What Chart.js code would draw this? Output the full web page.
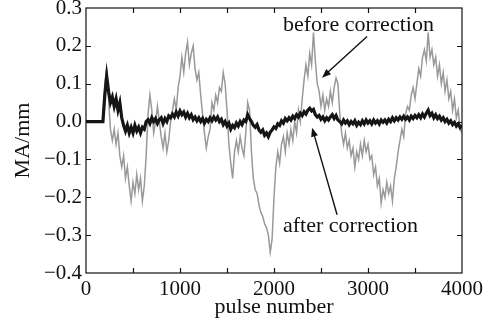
<!DOCTYPE html>
<html>
<head>
<meta charset="utf-8">
<script src="https://cdn.jsdelivr.net/npm/chart.js@4.4.1/dist/chart.umd.min.js"></script>
<style>
  html, body { margin: 0; padding: 0; background: #fff; }
  #wrap { width: 491px; height: 322px; }
</style>
</head>
<body>
<div id="wrap"><canvas id="chart" width="491" height="322"></canvas></div>
<script>
// sampled every 20 pulses, 0 .. 4000 (one row = 200 pulses)
const step = 20;

const beforeCorrection = [
    0, 0, 0, 0, 0, 0, 0, 0, 0, 0,
    0.10, 0.14, 0.06, -0.02, -0.05, -0.02, -0.06, -0.03, -0.09, -0.12,
    -0.09, -0.15, -0.12, -0.17, -0.21, -0.16, -0.19, -0.14, -0.18, -0.15,
    -0.21, -0.17, -0.09, 0.02, 0.07, 0.03, -0.03, 0.00, 0.04, 0.00,
    -0.04, -0.07, -0.03, -0.08, -0.05, 0.00, 0.03, 0.06, 0.03, 0.09,
    0.12, 0.17, 0.13, 0.18, 0.21, 0.15, 0.18, 0.20, 0.14, 0.11,
    0.13, 0.07, 0.02, -0.03, -0.07, -0.04, -0.02, 0.05, 0.03, 0.07,
    0.05, 0.09, 0.08, 0.13, 0.10, 0.03, -0.06, -0.11, -0.15, -0.08,
    -0.05, -0.08, -0.04, -0.07, -0.09, -0.03, 0.05, 0.03, -0.08, -0.15,
    -0.18, -0.19, -0.22, -0.24, -0.25, -0.27, -0.28, -0.30, -0.345, -0.31,
    -0.20, -0.12, -0.08, -0.11, -0.06, -0.04, -0.08, -0.03, -0.06, -0.02,
    -0.05, 0.00, -0.03, 0.03, 0.00, 0.06, 0.11, 0.15, 0.12, 0.18,
    0.15, 0.235, 0.16, 0.10, 0.08, 0.04, 0.07, 0.03, 0.06, 0.04,
    0.08, 0.05, 0.09, 0.115, 0.10, 0.02, -0.03, -0.06, -0.03, -0.07,
    -0.05, -0.09, -0.07, -0.12, -0.08, -0.10, -0.06, -0.09, -0.05, -0.08,
    -0.06, -0.10, -0.09, -0.14, -0.12, -0.17, -0.15, -0.215, -0.18, -0.20,
    -0.16, -0.19, -0.17, -0.21, -0.15, -0.12, -0.08, -0.05, -0.02, -0.04,
    0.02, 0.04, 0.03, 0.07, 0.09, 0.06, 0.10, 0.14, 0.12, 0.17,
    0.19, 0.16, 0.235, 0.17, 0.19, 0.15, 0.17, 0.12, 0.15, 0.10,
    0.13, 0.08, 0.11, 0.06, 0.08, 0.03, 0.06, 0.01, 0.03, -0.02,
    -0.03
];

const afterCorrection = [
    0, 0, 0, 0, 0, 0, 0, 0, 0, 0,
    0.07, 0.12, 0.08, 0.05, 0.065, 0.04, 0.06, 0.03, 0.05, 0.01,
    -0.01, -0.025, -0.01, -0.03, -0.015, -0.03, -0.01, -0.025, -0.015, -0.03,
    -0.015, -0.02, 0.00, 0.005, -0.005, 0.01, 0.00, 0.008, -0.005, 0.005,
    0.01, -0.005, 0.008, 0.00, 0.015, 0.01, 0.02, 0.012, 0.025, 0.015,
    0.028, 0.018, 0.025, 0.012, 0.022, 0.01, 0.018, 0.005, 0.012, 0.002,
    0.01, 0.00, 0.008, -0.004, 0.006, 0.00, 0.01, 0.002, 0.012, 0.004,
    0.012, 0.00, 0.006, -0.008, 0.00, -0.012, -0.004, -0.02, -0.01, -0.016,
    -0.004, -0.012, 0.00, -0.008, 0.004, 0.00, 0.018, 0.008, 0.00, -0.01,
    -0.015, -0.008, -0.022, -0.028, -0.022, -0.036, -0.03, -0.04, -0.028, -0.022,
    -0.014, -0.018, -0.006, -0.01, 0.002, -0.004, 0.008, 0.002, 0.01, 0.004,
    0.014, 0.008, 0.018, 0.012, 0.022, 0.016, 0.026, 0.02, 0.03, 0.035,
    0.028, 0.032, 0.018, 0.012, 0.016, 0.006, 0.012, 0.002, 0.01, 0.004,
    0.012, 0.018, 0.008, 0.016, 0.004, 0.00, -0.006, 0.004, -0.004, 0.002,
    -0.008, 0.00, -0.006, 0.002, -0.01, -0.002, -0.008, 0.002, -0.006, 0.004,
    -0.004, 0.002, -0.006, 0.004, -0.004, 0.002, -0.006, 0.004, -0.002, 0.004,
    -0.004, 0.006, 0.00, 0.01, 0.002, 0.01, 0.004, 0.012, 0.006, 0.014,
    0.006, 0.012, 0.004, 0.014, 0.008, 0.016, 0.01, 0.018, 0.01, 0.02,
    0.012, 0.022, 0.03, 0.016, 0.022, 0.01, 0.018, 0.008, 0.014, 0.004,
    0.01, 0.00, 0.006, -0.004, 0.002, -0.008, -0.002, -0.012, -0.006, -0.016,
    -0.01
];

const xTicks = [0, 1000, 2000, 3000, 4000];
const yTicks = [-0.4, -0.3, -0.2, -0.1, 0.0, 0.1, 0.2, 0.3];

// text callouts, placed in data units
const notes = [
    { text: 'before correction', x: 2096, y: 0.238, from: [2990, 0.225], to: [2511, 0.116] },
    { text: 'after correction', x: 2096, y: -0.291, from: [2671, -0.246], to: [2405, -0.016] }
];

const serif = "'Liberation Serif', 'Times New Roman', serif";

function toPoints(arr) {
    return arr.map((v, i) => ({ x: i * step, y: v }));
}

// box + inward ticks + callouts
const framePlugin = {
    id: 'frame',
    afterDatasetsDraw(chart) {
        const { ctx, chartArea: a, scales } = chart;
        const xs = scales.x, ys = scales.y;
        ctx.save();
        ctx.strokeStyle = '#111';
        ctx.lineWidth = 1.2;
        ctx.strokeRect(a.left, a.top, a.right - a.left, a.bottom - a.top);
        ctx.beginPath();
        for (let v = 500; v < 4000; v += 500) {
            const px = Math.round(xs.getPixelForValue(v)) + 0.5;
            ctx.moveTo(px, a.bottom); ctx.lineTo(px, a.bottom - 5);
            ctx.moveTo(px, a.top); ctx.lineTo(px, a.top + 5);
        }
        yTicks.slice(1, -1).forEach(v => {
            const py = Math.round(ys.getPixelForValue(v)) + 0.5;
            ctx.moveTo(a.left, py); ctx.lineTo(a.left + 5, py);
            ctx.moveTo(a.right, py); ctx.lineTo(a.right - 5, py);
        });
        ctx.stroke();

        ctx.fillStyle = '#111';
        ctx.font = '22px ' + serif;
        ctx.textBaseline = 'alphabetic';
        notes.forEach(n => {
            ctx.fillText(n.text, xs.getPixelForValue(n.x), ys.getPixelForValue(n.y));
            const x0 = xs.getPixelForValue(n.from[0]), y0 = ys.getPixelForValue(n.from[1]);
            const x1 = xs.getPixelForValue(n.to[0]), y1 = ys.getPixelForValue(n.to[1]);
            const ang = Math.atan2(y1 - y0, x1 - x0);
            ctx.lineWidth = 1.4;
            ctx.beginPath();
            ctx.moveTo(x0, y0);
            ctx.lineTo(x1 - 6 * Math.cos(ang), y1 - 6 * Math.sin(ang));
            ctx.stroke();
            ctx.beginPath();
            ctx.moveTo(x1, y1);
            ctx.lineTo(x1 - 9 * Math.cos(ang) + 3.5 * Math.sin(ang), y1 - 9 * Math.sin(ang) - 3.5 * Math.cos(ang));
            ctx.lineTo(x1 - 9 * Math.cos(ang) - 3.5 * Math.sin(ang), y1 - 9 * Math.sin(ang) + 3.5 * Math.cos(ang));
            ctx.closePath();
            ctx.fill();
        });
        ctx.restore();
    }
};

new Chart(document.getElementById('chart'), {
    type: 'line',
    data: {
        datasets: [
            {
                label: 'after correction',
                data: toPoints(afterCorrection),
                borderColor: '#151515',
                borderWidth: 3.2,
                pointRadius: 0,
                tension: 0
            },
            {
                label: 'before correction',
                data: toPoints(beforeCorrection),
                borderColor: '#999999',
                borderWidth: 1.5,
                pointRadius: 0,
                tension: 0
            }
        ]
    },
    options: {
        responsive: false,
        animation: false,
        layout: { padding: { left: 0, top: 8, right: 29, bottom: 0 } },
        plugins: {
            legend: { display: false },
            tooltip: { enabled: false }
        },
        scales: {
            x: {
                type: 'linear',
                min: 0,
                max: 4000,
                afterBuildTicks: s => { s.ticks = xTicks.map(v => ({ value: v })); },
                afterFit: s => { s.height = 49; s.paddingLeft = 0; s.paddingRight = 0; },
                grid: { display: false, drawTicks: false },
                border: { display: false },
                ticks: {
                    color: '#111',
                    padding: 4,
                    maxRotation: 0,
                    font: { family: serif, size: 21 },
                    callback: v => String(v)
                },
                title: {
                    display: true,
                    text: 'pulse number',
                    color: '#111',
                    padding: { top: 0, bottom: 2 },
                    font: { family: serif, size: 22 }
                }
            },
            y: {
                min: -0.4,
                max: 0.3,
                afterBuildTicks: s => { s.ticks = yTicks.map(v => ({ value: v })); },
                afterFit: s => { s.width = 86; s.paddingTop = 0; s.paddingBottom = 0; },
                grid: { display: false, drawTicks: false },
                border: { display: false },
                ticks: {
                    color: '#111',
                    padding: 4,
                    font: { family: serif, size: 21 },
                    callback: v => (v < 0 ? '\u2212' : '') + Math.abs(v).toFixed(1)
                },
                title: {
                    display: true,
                    text: 'MA/mm',
                    color: '#111',
                    padding: { top: 10, bottom: 0 },
                    font: { family: serif, size: 22 }
                }
            }
        }
    },
    plugins: [framePlugin]
});
</script>
</body>
</html>
